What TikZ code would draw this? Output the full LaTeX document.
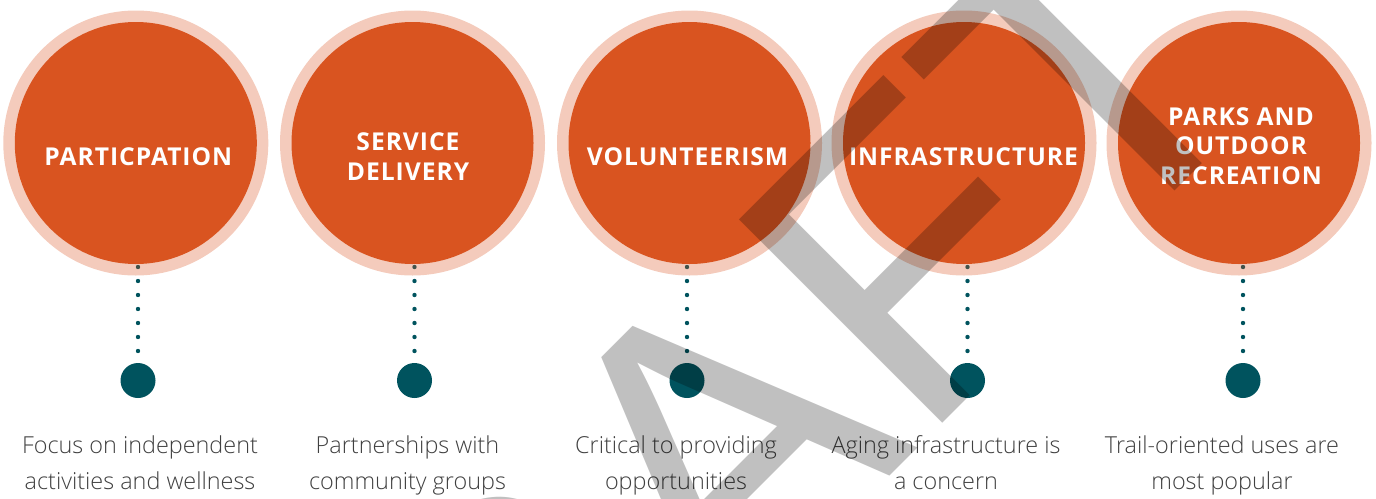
\documentclass[tikz,border=0pt]{standalone}
\usepackage{fontspec}
\setmainfont{Open Sans}
\IfFontExistsTF{Open Sans Light}{\newfontfamily\descfont{Open Sans Light}}{\newfontfamily\descfont{Open Sans}}
\newfontfamily\titlefont[LetterSpace=4]{Open Sans}
\newfontfamily\wmfont[Kerning=Off]{Liberation Sans}
\definecolor{orng}{HTML}{D95420}
\definecolor{dteal}{HTML}{00535E}
\definecolor{txtgray}{HTML}{404040}
\definecolor{wmgray}{HTML}{C0C0C0}
\begin{document}
\begin{tikzpicture}[x=1pt,y=-1pt,
  ring/.style={circle, fill=orng, fill opacity=0.3, minimum size=265pt, inner sep=0pt},
  disc/.style={circle, fill=orng, minimum size=242pt, inner sep=0pt},
  title/.style={text=white, align=center, inner sep=0pt, anchor=base,
    font=\titlefont\bfseries\fontsize{24.6}{29.5}\selectfont},
  desc/.style={text=txtgray, align=center, inner sep=0pt, anchor=base,
    font=\descfont\fontsize{23.4}{36}\selectfont},
  bigdot/.style={circle, fill=dteal, minimum size=35pt, inner sep=0pt},
  dotline/.style={draw=dteal, line width=4.4pt, dash pattern=on 0pt off 14pt, line cap=round},
  watermark/.style={text=wmgray, inner sep=0pt, anchor=base west, rotate=45,
    font=\wmfont\fontsize{418}{418}\selectfont}]
\useasboundingbox (0,0) rectangle (1376,498);
% column positions: circle x, dot x
\foreach \i/\cx/\dx in {1/135.8/138, 2/412.5/414.5, 3/689.5/687, 4/964/967.5, 5/1239/1243}{
  \coordinate (top\i) at (\dx,267);
  \node[bigdot] (dot\i) at (\dx,380.5) {};
  \draw[dotline] (top\i) -- (dot\i.north);
  \node[ring] (ring\i) at (\cx,143) {};
  \node[disc] (disc\i) at (\cx,143) {};
}
\node[title] (t1) at (138.3,165) {PARTICPATION};
\node[title] (t2) at (408,180) {SERVICE\\DELIVERY};
\node[title] (t3) at (687.5,165) {VOLUNTEERISM};
\node[title] (t4) at (963.5,165) {INFRASTRUCTURE};
\node[title] (t5) at (1241,184) {PARKS AND\\OUTDOOR\\RECREATION};
\node[desc] (d1) at (140,489) {Focus on independent\\activities and wellness};
\node[desc] (d2) at (407.5,489) {Partnerships with\\community groups};
\node[desc] (d3) at (676,489) {Critical to providing\\opportunities};
\node[desc] (d4) at (946,489) {Aging infrastructure is\\a concern};
\node[desc] (d5) at (1222,489) {Trail-oriented uses are\\most popular};
\begin{scope}[blend mode=multiply]
\node[watermark] (wm) at (294.1,1071.9) {DRAFT};
\end{scope}
\end{tikzpicture}
\end{document}
